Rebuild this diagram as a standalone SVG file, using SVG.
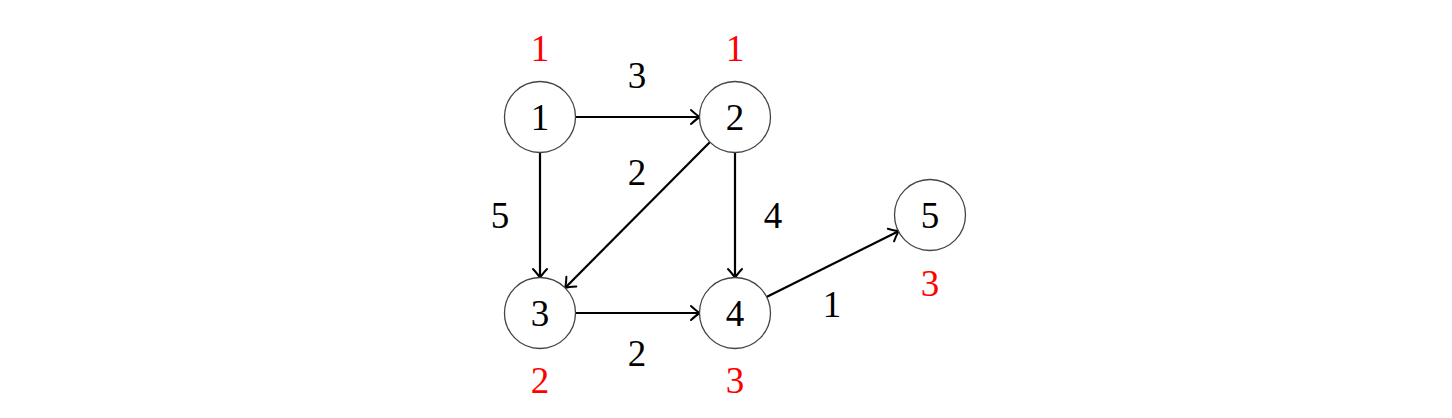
<svg xmlns="http://www.w3.org/2000/svg" width="1452" height="418" viewBox="0 0 1452 418">
<style>
.node circle{fill:#fff;stroke:#444;stroke-width:1.3}
.node text,.lbl{font-family:"Liberation Serif","DejaVu Serif",serif;font-size:37px;fill:#000;text-anchor:middle;dominant-baseline:central}
.node text.red{fill:#ff0000}
.edge{stroke:#000;stroke-width:2.2;fill:none;marker-end:url(#arr)}
</style>
<defs>
<marker id="arr" markerUnits="userSpaceOnUse" markerWidth="20" markerHeight="20" viewBox="-12 -10 14 20" refX="0" refY="0" orient="auto">
<path d="M-9,-7 Q-3,-1.5 0,0 Q-3,1.5 -9,7" fill="none" stroke="#000" stroke-width="2" stroke-linecap="round"/>
</marker>
</defs>
<rect width="1452" height="418" fill="#fff"/>
<g id="connectors">
<line class="edge" x1="575.5" y1="117" x2="700" y2="117"/>
<line class="edge" x1="540" y1="152.5" x2="540" y2="278"/>
<line class="edge" x1="710" y1="142" x2="565" y2="288"/>
<line class="edge" x1="735" y1="152.5" x2="735" y2="278"/>
<line class="edge" x1="575.5" y1="313" x2="700" y2="313"/>
<line class="edge" x1="766.5" y1="297" x2="899" y2="231"/>
</g>
<g id="edge-labels">
<text class="lbl" x="637" y="75">3</text>
<text class="lbl" x="637" y="172">2</text>
<text class="lbl" x="500" y="215">5</text>
<text class="lbl" x="773" y="215">4</text>
<text class="lbl" x="637" y="353">2</text>
<text class="lbl" x="832" y="304">1</text>
</g>
<g id="node1" class="node"><circle cx="540" cy="117" r="35.5"/><text x="540" y="117">1</text><text class="red" x="540" y="48">1</text></g>
<g id="node2" class="node"><circle cx="735" cy="117" r="35.5"/><text x="735" y="117">2</text><text class="red" x="735" y="48">1</text></g>
<g id="node3" class="node"><circle cx="540" cy="313" r="35.5"/><text x="540" y="313">3</text><text class="red" x="540" y="380">2</text></g>
<g id="node4" class="node"><circle cx="735" cy="313" r="35.5"/><text x="735" y="313">4</text><text class="red" x="735" y="380">3</text></g>
<g id="node5" class="node"><circle cx="930" cy="215" r="35.5"/><text x="930" y="215">5</text><text class="red" x="930" y="283">3</text></g>
</svg>
